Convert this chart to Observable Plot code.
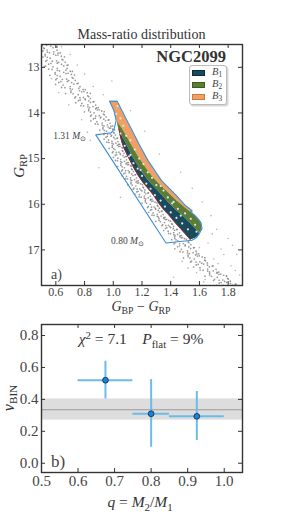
<!DOCTYPE html>
<html><head><meta charset="utf-8">
<script src="https://cdn.jsdelivr.net/npm/d3@7"></script>
<script src="https://cdn.jsdelivr.net/npm/@observablehq/plot@0.6"></script>
<style>
body{margin:0;background:#fff;}
#wrap{position:relative;width:293px;height:523px;font-family:"Liberation Serif",serif;color:#333;overflow:hidden;background:#fff}
.abs{position:absolute;white-space:nowrap;line-height:1}
.c{transform:translate(-50%,-50%)}
sub{font-size:70%;vertical-align:-0.3em;line-height:0}
sup{font-size:70%;vertical-align:0.45em;line-height:0}
</style></head><body><div id="wrap"></div>
<script>
// ---------- panel a) : colour–magnitude diagram ----------
const cmdX = [0.5, 1.9];
const cmdY = [17.78, 12.5];
const xTicksTop = [0.6, 0.8, 1.0, 1.2, 1.4, 1.6, 1.8];
const yTicksTop = [13, 14, 15, 16, 17];

// main-sequence stars (G_BP-G_RP, G_RP)
const msColor = [0.505,0.535,0.58,0.52,0.61, 0.54,0.585,0.51,0.615,0.555, 0.585,0.525,0.615,0.54,0.66, 0.56,0.65,0.53,0.605,0.62,
 0.55,0.61,0.655,0.58,0.685, 0.61,0.67,0.55,0.715,0.625, 0.655,0.595,0.685,0.61,0.73, 0.63,0.72,0.60,0.675,0.69,
 0.62,0.68,0.725,0.65,0.755, 0.70,0.76,0.64,0.805,0.715, 0.765,0.705,0.795,0.72,0.84, 0.756,0.828,0.732,0.792,0.804,
 0.757,0.805,0.841,0.781,0.865, 0.823,0.859,0.775,0.883,0.835, 0.877,0.829,0.901,0.841,0.937, 0.866,0.938,0.842,0.902,0.914,
 0.862,0.91,0.946,0.886,0.97, 0.923,0.959,0.875,0.983,0.935, 0.964,0.928,0.982,0.937,1.009, 0.952,1.006,0.934,0.979,0.988,
 0.949,0.985,1.012,0.967,1.03, 0.991,1.018,0.955,1.036,1.00, 1.029,0.993,1.047,1.002,1.066, 1.012,1.066,0.994,1.039,1.048,
 1.014,1.05,1.077,1.032,1.088, 1.051,1.078,1.015,1.096,1.06, 1.089,1.053,1.107,1.062,1.125, 1.077,1.131,1.059,1.104,1.113,
 1.074,1.11,1.137,1.092,1.155, 1.121,1.148,1.085,1.166,1.13, 1.159,1.123,1.177,1.132,1.204, 1.157,1.211,1.139,1.184,1.193,
 1.164,1.20,1.227,1.182,1.245, 1.216,1.243,1.18,1.261,1.225, 1.259,1.223,1.277,1.232,1.304, 1.257,1.311,1.239,1.284,1.293,
 1.259,1.295,1.322,1.277,1.34, 1.306,1.333,1.27,1.351,1.315, 1.354,1.318,1.372,1.327,1.399, 1.357,1.411,1.339,1.384,1.393,
 1.364,1.40,1.427,1.382,1.445, 1.421,1.448,1.385,1.466,1.43, 1.464,1.428,1.482,1.437,1.509, 1.449,1.527,1.423,1.488,1.501,
 1.448,1.50,1.539,1.474,1.565, 1.517,1.556,1.465,1.582,1.53, 1.573,1.521,1.599,1.534,1.638, 1.564,1.642,1.538,1.603,1.616,
 1.578,1.63,1.669,1.604,1.695, 1.657,1.696,1.605,1.722,1.67, 1.723,1.671,1.749,1.684,1.788, 1.724,1.802,1.698,1.763,1.776,
 1.738,1.79,1.829,1.764,1.855];
const msMag = [12.53,12.51,12.57,12.59,12.55, 12.62,12.66,12.64,12.69,12.68, 12.71,12.75,12.73,12.78,12.77, 12.80,12.84,12.87,12.86,12.89,
 12.93,12.91,12.97,12.99,12.95, 13.02,13.06,13.04,13.09,13.08, 13.11,13.15,13.13,13.18,13.17, 13.20,13.24,13.27,13.26,13.29,
 13.33,13.31,13.37,13.39,13.35, 13.42,13.46,13.44,13.49,13.48, 13.51,13.55,13.53,13.58,13.57, 13.60,13.64,13.67,13.66,13.69,
 13.73,13.71,13.77,13.79,13.75, 13.82,13.86,13.84,13.89,13.88, 13.91,13.95,13.93,13.98,13.97, 14.00,14.04,14.07,14.06,14.09,
 14.13,14.11,14.17,14.19,14.15, 14.22,14.26,14.24,14.29,14.28, 14.31,14.35,14.33,14.38,14.37, 14.40,14.44,14.47,14.46,14.49,
 14.53,14.51,14.57,14.59,14.55, 14.62,14.66,14.64,14.69,14.68, 14.71,14.75,14.73,14.78,14.77, 14.80,14.84,14.87,14.86,14.89,
 14.93,14.91,14.97,14.99,14.95, 15.02,15.06,15.04,15.09,15.08, 15.11,15.15,15.13,15.18,15.17, 15.20,15.24,15.27,15.26,15.29,
 15.33,15.31,15.37,15.39,15.35, 15.42,15.46,15.44,15.49,15.48, 15.51,15.55,15.53,15.58,15.57, 15.60,15.64,15.67,15.66,15.69,
 15.73,15.71,15.77,15.79,15.75, 15.82,15.86,15.84,15.89,15.88, 15.91,15.95,15.93,15.98,15.97, 16.00,16.04,16.07,16.06,16.09,
 16.13,16.11,16.17,16.19,16.15, 16.22,16.26,16.24,16.29,16.28, 16.31,16.35,16.33,16.38,16.37, 16.40,16.44,16.47,16.46,16.49,
 16.53,16.51,16.57,16.59,16.55, 16.62,16.66,16.64,16.69,16.68, 16.71,16.75,16.73,16.78,16.77, 16.80,16.84,16.87,16.86,16.89,
 16.93,16.91,16.97,16.99,16.95, 17.02,17.06,17.04,17.09,17.08, 17.11,17.15,17.13,17.18,17.17, 17.20,17.24,17.27,17.26,17.29,
 17.33,17.31,17.37,17.39,17.35, 17.42,17.46,17.44,17.49,17.48, 17.51,17.55,17.53,17.58,17.57, 17.60,17.64,17.67,17.66,17.69,
 17.73,17.71,17.77,17.775,17.75];

// second set of main-sequence stars
const msColor2 = [0.565,0.505,0.603,0.515, 0.503,0.608,0.54,0.63, 0.60,0.525,0.638,0.51, 0.538,0.643,0.575,0.665,
 0.64,0.565,0.678,0.528, 0.573,0.678,0.61,0.70, 0.67,0.595,0.708,0.558, 0.608,0.713,0.645,0.735,
 0.71,0.635,0.748,0.598, 0.663,0.768,0.70,0.79, 0.78,0.705,0.818,0.668, 0.738,0.822,0.768,0.84,
 0.829,0.769,0.859,0.739, 0.793,0.877,0.823,0.895, 0.889,0.829,0.919,0.799, 0.848,0.932,0.878,0.95,
 0.934,0.874,0.964,0.844, 0.893,0.977,0.923,0.995, 0.973,0.928,0.996,0.906, 0.939,1.002,0.961,1.015,
 1.003,0.958,1.026,0.936, 0.969,1.032,0.991,1.045, 1.038,0.993,1.061,0.971, 0.999,1.062,1.021,1.075,
 1.068,1.023,1.091,1.001, 1.029,1.092,1.051,1.105, 1.098,1.053,1.121,1.031, 1.064,1.127,1.086,1.14,
 1.128,1.083,1.151,1.061, 1.099,1.162,1.121,1.175, 1.168,1.123,1.191,1.101, 1.144,1.207,1.166,1.22,
 1.218,1.173,1.241,1.151, 1.194,1.257,1.216,1.27, 1.268,1.223,1.291,1.201, 1.244,1.307,1.266,1.32,
 1.313,1.268,1.336,1.246, 1.284,1.347,1.306,1.36, 1.363,1.318,1.386,1.296, 1.344,1.407,1.366,1.42,
 1.418,1.373,1.441,1.351, 1.399,1.462,1.421,1.475, 1.473,1.428,1.496,1.406, 1.43,1.521,1.462,1.54,
 1.526,1.461,1.559,1.429, 1.485,1.576,1.517,1.595, 1.586,1.521,1.619,1.489, 1.545,1.636,1.577,1.655,
 1.656,1.591,1.689,1.559, 1.625,1.716,1.657,1.735, 1.736,1.671,1.769,1.639, 1.705,1.796,1.737,1.815,
 1.816,1.751,1.849,1.719];
const msMag2 = [12.535,12.515,12.555,12.575, 12.645,12.625,12.665,12.685, 12.735,12.715,12.755,12.775, 12.845,12.825,12.865,12.885,
 12.935,12.915,12.955,12.975, 13.045,13.025,13.065,13.085, 13.135,13.115,13.155,13.175, 13.245,13.225,13.265,13.285,
 13.335,13.315,13.355,13.375, 13.445,13.425,13.465,13.485, 13.535,13.515,13.555,13.575, 13.645,13.625,13.665,13.685,
 13.735,13.715,13.755,13.775, 13.845,13.825,13.865,13.885, 13.935,13.915,13.955,13.975, 14.045,14.025,14.065,14.085,
 14.135,14.115,14.155,14.175, 14.245,14.225,14.265,14.285, 14.335,14.315,14.355,14.375, 14.445,14.425,14.465,14.485,
 14.535,14.515,14.555,14.575, 14.645,14.625,14.665,14.685, 14.735,14.715,14.755,14.775, 14.845,14.825,14.865,14.885,
 14.935,14.915,14.955,14.975, 15.045,15.025,15.065,15.085, 15.135,15.115,15.155,15.175, 15.245,15.225,15.265,15.285,
 15.335,15.315,15.355,15.375, 15.445,15.425,15.465,15.485, 15.535,15.515,15.555,15.575, 15.645,15.625,15.665,15.685,
 15.735,15.715,15.755,15.775, 15.845,15.825,15.865,15.885, 15.935,15.915,15.955,15.975, 16.045,16.025,16.065,16.085,
 16.135,16.115,16.155,16.175, 16.245,16.225,16.265,16.285, 16.335,16.315,16.355,16.375, 16.445,16.425,16.465,16.485,
 16.535,16.515,16.555,16.575, 16.645,16.625,16.665,16.685, 16.735,16.715,16.755,16.775, 16.845,16.825,16.865,16.885,
 16.935,16.915,16.955,16.975, 17.045,17.025,17.065,17.085, 17.135,17.115,17.155,17.175, 17.245,17.225,17.265,17.285,
 17.335,17.315,17.355,17.375, 17.445,17.425,17.465,17.485, 17.535,17.515,17.555,17.575, 17.645,17.625,17.665,17.685,
 17.735,17.715,17.755,17.775];

// field stars scattered off the sequence
const fieldColor = [0.64,0.70,0.75,0.52,0.80,0.57,0.86,0.62,0.93,0.69,0.99,1.12,0.78,1.22,0.84,1.32,0.90,1.47,1.55,1.05,
 1.62,1.68,1.72,1.80,1.66,1.75,1.86,1.70,1.48,1.82,1.58,1.88,1.64,1.85,1.42,1.77,1.60,1.69,1.58,1.52,1.73,1.83,1.63,1.79,0.82];
const fieldMag = [12.55,12.72,12.95,12.98,13.15,13.25,13.42,13.55,13.60,13.82,13.30,13.95,14.15,14.40,14.60,14.90,15.20,15.30,15.65,15.85,
 15.95,16.25,16.55,16.75,16.85,16.98,17.10,17.20,17.25,17.35,17.50,17.55,17.65,17.45,17.60,17.10,16.95,16.65,17.05,17.40,17.30,16.90,17.70,17.58,14.42];

// stars inside the binary region
const binColor = [1.03,1.02,1.05,1.07,1.05,1.09,1.12,1.08,1.15,1.12,1.18,1.14,1.21,1.17,1.24,1.20,1.27,1.23,1.30,1.26,
 1.35,1.29,1.38,1.33,1.42,1.36,1.45,1.40,1.50,1.44,1.54,1.48,1.57,1.52,1.58,1.11,1.19,1.33,1.47,1.41];
const binMag = [13.85,14.02,14.12,14.28,14.45,14.50,14.60,14.72,14.80,14.92,15.00,15.10,15.12,15.22,15.30,15.38,15.42,15.55,15.58,15.66,
 15.70,15.80,15.85,15.92,15.95,16.05,16.10,16.18,16.20,16.30,16.32,16.42,16.45,16.55,16.60,14.95,15.25,15.60,16.25,15.98];

// binary-region band edges (G_RP and BP-RP of each boundary)
const bandMag  = [13.745,13.949,14.168,14.349,14.678,15.044,15.482,15.811,16.03,16.139,16.227,16.402,16.533,16.643,16.73,16.785];
const edgeRed  = [0.974,1.005,1.027,1.039,1.064,1.117,1.197,1.282,1.329,1.357,1.384,1.43,1.468,1.499,1.524,1.538];
const edgeB1B2 = [0.974,1.005,1.027,1.039,1.092,1.151,1.245,1.343,1.405,1.44,1.475,1.531,1.572,1.60,1.58,1.538];
const edgeB2B3 = [0.974,1.005,1.027,1.064,1.124,1.193,1.297,1.405,1.482,1.524,1.562,1.611,1.618,1.60,1.58,1.538];
const edgeOuter= [1.027,1.061,1.096,1.126,1.179,1.242,1.336,1.440,1.503,1.549,1.562,1.611,1.618,1.60,1.58,1.538];

// outline of the selected region
const outlineColor = [0.974,1.027,1.061,1.096,1.126,1.179,1.242,1.336,1.440,1.503,1.549,1.535,1.562,1.611,1.618,1.600,1.580,1.549,1.367,0.878,0.985,1.005,1.020,1.005,0.974];
const outlineMag   = [13.745,13.745,13.949,14.168,14.349,14.678,15.044,15.482,15.811,16.03,16.139,16.17,16.227,16.402,16.533,16.643,16.73,16.79,16.85,14.48,14.435,14.36,14.17,13.949,13.745];

const massLabels = ["1.31", "0.80"];
const massLabelColor = [0.814, 1.217];
const massLabelMag = [14.53, 16.83];

const legendLabels = ["1", "2", "3"];
const legendColors = ["#184b5b", "#5c7d36", "#f0a062"];
const legendEdges  = ["#0c2c36", "#3f5a22", "#c97a3c"];

// ---------- panel b) : mass-ratio distribution ----------
const qDomain = [0.5, 1.05];
const nuDomain = [-0.058, 0.869];
const qTicks = [0.5, 0.6, 0.7, 0.8, 0.9, 1.0];
const nuTicks = [0.0, 0.2, 0.4, 0.6, 0.8];
const qCenter = [0.675, 0.80, 0.925];
const qLow = [0.60, 0.75, 0.85];
const qHigh = [0.75, 0.85, 1.00];
const nuValue = [0.52, 0.31, 0.294];
const nuLow = [0.403, 0.10, 0.142];
const nuHigh = [0.639, 0.524, 0.449];
const flatLevel = [0.335];
const flatLow = [0.27];
const flatHigh = [0.403];

// ---------- build ----------
const ms = msColor.map((c, i) => ({c, g: msMag[i]})).concat(msColor2.map((c, i) => ({c, g: msMag2[i]})));
const field = fieldColor.map((c, i) => ({c, g: fieldMag[i]}));
const bins = binColor.map((c, i) => ({c, g: binMag[i]}));
const bands = bandMag.map((g, i) => ({g, c0: edgeRed[i], c1: edgeB1B2[i], c2: edgeB2B3[i], c3: edgeOuter[i]}));
const outline = outlineColor.map((c, i) => ({c, g: outlineMag[i]}));
const qbins = qCenter.map((q, i) => ({q, qlo: qLow[i], qhi: qHigh[i], nu: nuValue[i], lo: nuLow[i], hi: nuHigh[i]}));
const flat = flatLevel.map((v, i) => ({v, lo: flatLow[i], hi: flatHigh[i]}));

const W = 293;
const fTop = {h: 310 - 44 - 25, w: 293 - 41 - 51};
const axisCol = "#333";

const topPlot = Plot.plot({
  width: W, height: 310, marginLeft: 41, marginRight: 51, marginTop: 44, marginBottom: 25,
  style: {fontFamily: "'Liberation Serif', serif", fontSize: "12px", color: "#444", background: "transparent"},
  x: {domain: cmdX, label: null},
  y: {domain: cmdY, label: null},
  marks: [
    Plot.dot(field, {x: "c", y: "g", r: 0.8, fill: "#999", fillOpacity: 0.7}),
    Plot.dot(ms, {x: "c", y: "g", r: 0.85, fill: "#6e6e6e", fillOpacity: 0.7}),
    Plot.areaX(bands, {y: "g", x1: "c2", x2: "c3", fill: legendColors[2], curve: "monotone-y"}),
    Plot.areaX(bands, {y: "g", x1: "c1", x2: "c2", fill: legendColors[1], curve: "monotone-y"}),
    Plot.areaX(bands, {y: "g", x1: "c0", x2: "c1", fill: legendColors[0], curve: "monotone-y"}),
    Plot.line(bands.filter(d => d.g >= 14.349), {x: "c0", y: "g", stroke: "#a3222e", strokeWidth: 1, curve: "monotone-y"}),
    Plot.dot(bins, {x: "c", y: "g", r: 1.1, fill: "#e6e6e6"}),
    Plot.line(outline, {x: "c", y: "g", stroke: "#3b8ed4", strokeWidth: 1.1}),
    Plot.tickX(xTicksTop, {x: d => d, insetTop: fTop.h - 4, stroke: axisCol}),
    Plot.tickX(xTicksTop, {x: d => d, insetBottom: fTop.h - 4, stroke: axisCol}),
    Plot.tickY(yTicksTop, {y: d => d, insetRight: fTop.w - 4, stroke: axisCol}),
    Plot.tickY(yTicksTop, {y: d => d, insetLeft: fTop.w - 4, stroke: axisCol}),
    Plot.axisX({ticks: xTicksTop, tickSize: 0, tickPadding: 2, tickFormat: d => d.toFixed(1), fill: "#444"}),
    Plot.axisY({ticks: yTicksTop, tickSize: 0, tickPadding: 2, tickFormat: d => String(d), fill: "#444"}),
    Plot.frame({stroke: axisCol, strokeWidth: 1.4})
  ]
});

const fBot = {h: 205 - 6 - 51, w: 293 - 41 - 51};
const botPlot = Plot.plot({
  width: W, height: 205, marginLeft: 41, marginRight: 51, marginTop: 6, marginBottom: 51,
  style: {fontFamily: "'Liberation Serif', serif", fontSize: "15px", color: "#444", background: "transparent"},
  x: {domain: qDomain, label: null},
  y: {domain: nuDomain, label: null},
  marks: [
    Plot.rect(flat, {x1: () => qDomain[0], x2: () => qDomain[1], y1: "lo", y2: "hi", fill: "#dddddd"}),
    Plot.ruleY(flat, {y: "v", stroke: "#9a9a9a", strokeWidth: 1}),
    Plot.ruleX(qbins, {x: "q", y1: "lo", y2: "hi", stroke: "#6cbbea", strokeWidth: 2}),
    Plot.ruleY(qbins, {y: "nu", x1: "qlo", x2: "qhi", stroke: "#6cbbea", strokeWidth: 2}),
    Plot.dot(qbins, {x: "q", y: "nu", r: 2.9, fill: "#1f80d6", stroke: "#0d2a44", strokeWidth: 0.8}),
    Plot.tickX(qTicks, {x: d => d, insetTop: fBot.h - 4, stroke: axisCol}),
    Plot.tickX(qTicks, {x: d => d, insetBottom: fBot.h - 4, stroke: axisCol}),
    Plot.tickY(nuTicks, {y: d => d, insetRight: fBot.w - 4, stroke: axisCol}),
    Plot.tickY(nuTicks, {y: d => d, insetLeft: fBot.w - 4, stroke: axisCol}),
    Plot.axisX({ticks: qTicks, tickSize: 0, tickPadding: 3, tickFormat: d => d.toFixed(1), fill: "#444"}),
    Plot.axisY({ticks: nuTicks, tickSize: 0, tickPadding: 3, tickFormat: d => d.toFixed(1), fill: "#444"}),
    Plot.frame({stroke: axisCol, strokeWidth: 1.4})
  ]
});

const wrap = document.getElementById("wrap");
topPlot.style.position = "absolute"; topPlot.style.left = "0px"; topPlot.style.top = "0px";
botPlot.style.position = "absolute"; botPlot.style.left = "0px"; botPlot.style.top = "318px";
wrap.appendChild(topPlot);
wrap.appendChild(botPlot);

function addText(html, css, cls = "abs") {
  const d = document.createElement("div");
  d.className = cls;
  d.innerHTML = html;
  d.style.cssText = css;
  wrap.appendChild(d);
  return d;
}

// titles and labels
addText("Mass-ratio distribution", "left:41px;width:201px;text-align:center;top:28px;font-size:14px;color:#333");
addText("NGC2099", "right:67px;top:49px;font-size:16.5px;font-weight:bold;color:#333");
addText("a)", "left:51px;top:268px;font-size:14px;color:#444");
addText("<i>G</i><sub>RP</sub>", "left:19px;top:166px;font-size:15px;color:#333;transform:translate(-50%,-50%) rotate(-90deg)");
addText("<i>G</i><sub>BP</sub> − <i>G</i><sub>RP</sub>", "left:141px;top:307px;font-size:14px;color:#333", "abs c");

// mass labels placed through the x/y scales of panel a)
const sx = topPlot.scale("x"), sy = topPlot.scale("y");
massLabels.forEach((m, i) => {
  const px = sx.apply(massLabelColor[i]), py = sy.apply(massLabelMag[i]);
  addText(m + " <i>M</i><sub>⊙</sub>", `right:${W - px}px;top:${py - 5}px;font-size:9.5px;color:#444`);
});

// legend
addText("", "left:189px;top:65px;width:38px;height:40px;border:1px solid #bbb;border-radius:3px;background:#fff;box-shadow:1.5px 1.5px 0 #d8d8d8;box-sizing:border-box");
legendLabels.forEach((l, i) => {
  const cy = 72.5 + i * 12.2;
  addText("", `left:192px;top:${cy - 3}px;width:13px;height:6px;background:${legendColors[i]};border:0.8px solid ${legendEdges[i]};box-sizing:border-box`);
  addText(`<i>B</i><sub>${l}</sub>`, `left:212px;top:${cy - 5.5}px;font-size:10.5px;color:#444`);
});

// panel b) texts
addText("<i>χ</i><sup>2</sup> = 7.1&nbsp;&nbsp;&nbsp; <i>P</i><sub>flat</sub> = 9%", "left:141px;top:339px;font-size:15.5px;color:#333", "abs c");
addText("b)", "left:51px;top:453px;font-size:17px;color:#444");
addText("<i>ν</i><sub>BIN</sub>", "left:9px;top:398px;font-size:16px;color:#333;transform:translate(-50%,-50%) rotate(-90deg)");
addText("<i>q</i> = <i>M</i><sub>2</sub>/<i>M</i><sub>1</sub>", "left:140px;top:502px;font-size:15.5px;color:#333", "abs c");
</script></body></html>
